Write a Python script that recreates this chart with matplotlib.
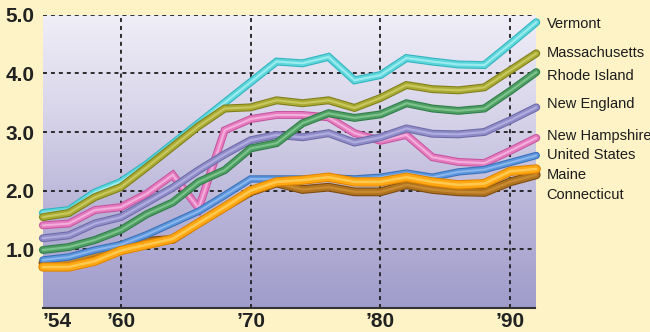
import matplotlib
matplotlib.use("Agg")
import matplotlib.pyplot as plt
import matplotlib.patheffects as pe
import numpy as np
from matplotlib.colors import LinearSegmentedColormap

plt.rcParams["font.family"] = ["Liberation Sans", "DejaVu Sans"]

years = list(range(1954, 1993, 2))

vermont = [1.62, 1.67, 1.97, 2.15, 2.45, 2.80, 3.15, 3.50, 3.85, 4.20,
           4.17, 4.28, 3.88, 3.97, 4.26, 4.20, 4.15, 4.14, 4.50, 4.87]
massachusetts = [1.55, 1.62, 1.89, 2.06, 2.40, 2.75, 3.10, 3.40, 3.42, 3.54,
                 3.49, 3.54, 3.41, 3.58, 3.80, 3.73, 3.71, 3.76, 4.05, 4.34]
rhode_island = [0.99, 1.04, 1.16, 1.33, 1.60, 1.80, 2.15, 2.35, 2.72, 2.81,
                3.15, 3.32, 3.24, 3.30, 3.49, 3.40, 3.36, 3.40, 3.70, 4.02]
new_england = [1.19, 1.24, 1.44, 1.55, 1.80, 2.05, 2.35, 2.62, 2.86, 2.95,
               2.91, 2.98, 2.82, 2.91, 3.06, 2.97, 2.96, 3.00, 3.20, 3.42]
new_hampshire = [1.41, 1.44, 1.67, 1.72, 1.95, 2.27, 1.70, 3.03, 3.22, 3.29,
                 3.29, 3.25, 2.98, 2.85, 2.95, 2.57, 2.49, 2.47, 2.68, 2.90]
united_states = [0.82, 0.87, 0.99, 1.08, 1.25, 1.45, 1.65, 1.92, 2.20, 2.20,
                 2.20, 2.22, 2.20, 2.23, 2.30, 2.23, 2.32, 2.36, 2.48, 2.60]
maine = [0.70, 0.70, 0.80, 0.98, 1.08, 1.18, 1.45, 1.72, 2.00, 2.15,
         2.18, 2.23, 2.15, 2.15, 2.23, 2.15, 2.10, 2.12, 2.33, 2.37]
connecticut = [0.77, 0.80, 0.92, 1.07, 1.14, 1.17, 1.45, 1.72, 1.98, 2.13,
               2.02, 2.06, 1.98, 1.98, 2.10, 2.02, 1.98, 1.97, 2.15, 2.27]

y_ticks = [1.0, 2.0, 3.0, 4.0, 5.0]
x_ticks = [1954, 1960, 1970, 1980, 1990]
x_tick_labels = ["\u201954", "\u201960", "\u201970", "\u201980", "\u201990"]

# name, values, main colour, edge colour, highlight, width, label y
series = [
    ("Vermont", vermont, "#5ed6dc", "#2fb4be", "#9cecee", 4.2, 4.84),
    ("New Hampshire", new_hampshire, "#e67cc0", "#c6559e", "#f3aedb", 4.2, 2.93),
    ("New England", new_england, "#8f8cc8", "#6d6aa8", "#b0aee0", 4.2, 3.48),
    ("Rhode Island", rhode_island, "#4f9e64", "#2f7c48", "#7cc48c", 4.2, 3.95),
    ("Massachusetts", massachusetts, "#aaaa34", "#7e7e18", "#c8c860", 4.2, 4.34),
    ("Connecticut", connecticut, "#b07420", "#7a4a10", "#c88a30", 4.8, 1.93),
    ("United States", united_states, "#5c96dc", "#3a70b8", "#8cb8ee", 3.8, 2.61),
    ("Maine", maine, "#ffa814", "#e08400", "#ffc850", 5.2, 2.27),
]

fig = plt.figure(figsize=(6.5, 3.32), dpi=100)
fig.patch.set_facecolor("#fdf3c6")
ax = fig.add_axes([0.066, 0.072, 0.757, 0.884])

x0, x1 = 1954, 1991.9
ax.set_xlim(x0, x1)
ax.set_ylim(0, 5.0)

# vertical lavender gradient behind the lines
grad_cmap = LinearSegmentedColormap.from_list(
    "bg", ["#a09ccb", "#b8b4d8", "#d8d5ea", "#f0eef7"])
grad = np.linspace(0, 1, 256).reshape(-1, 1)
ax.imshow(grad, cmap=grad_cmap, origin="lower", aspect="auto",
          extent=[x0, x1, 0, 5.0], zorder=0)

for y in y_ticks:
    ax.axhline(y, color="#1e1e1e", lw=1.3, ls=(0, (2.2, 2.2)), zorder=1)
for x in x_ticks[1:]:
    ax.axvline(x, color="#1e1e1e", lw=1.3, ls=(0, (2.2, 2.2)), zorder=1)

for i, (name, vals, col, edge, hi, lw, ly) in enumerate(series):
    ax.plot(years, vals, color=col, lw=lw, solid_joinstyle="miter",
            solid_capstyle="round", zorder=3 + i, clip_on=False,
            path_effects=[pe.Stroke(linewidth=lw + 1.5, foreground=edge),
                          pe.Normal(),
                          pe.Stroke(linewidth=lw * 0.35, foreground=hi)])
    ax.text(1992.8, ly, name, fontsize=10.5, color="#1c1c1c",
            ha="left", va="center", clip_on=False)

for side in ["top", "right", "left"]:
    ax.spines[side].set_visible(False)
ax.spines["bottom"].set_color("#333333")
ax.spines["bottom"].set_linewidth(1.5)

ax.set_yticks(y_ticks)
ax.set_yticklabels([f"{v:.1f}" for v in y_ticks], fontsize=15,
                   fontweight="bold", color="#222222")
ax.set_xticks(x_ticks)
ax.set_xticklabels(x_tick_labels, fontsize=15, fontweight="bold",
                   color="#222222")
ax.get_xticklabels()[0].set_horizontalalignment("left")
ax.tick_params(axis="both", length=0)
ax.tick_params(axis="y", pad=6)
ax.tick_params(axis="x", pad=3)

fig.savefig("out.png", dpi=100, facecolor=fig.get_facecolor())
